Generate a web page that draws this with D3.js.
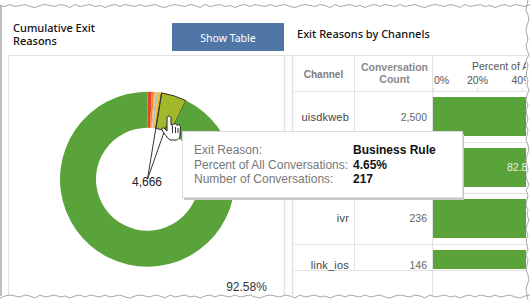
<!DOCTYPE html>
<html><head><meta charset="utf-8">
<script src="https://cdnjs.cloudflare.com/ajax/libs/d3/7.8.5/d3.min.js"></script>
<style>html,body{margin:0;padding:0;background:#fff}svg{display:block}</style></head>
<body><div id="c"></div>
<script>
const reasons=["Abandoned","Escalated","Timeout","Other","Invalid Input","Business Rule","Completed"];
const reasonPct=[0.78,0.42,0.27,0.46,0.65,4.65,92.77];
const reasonColors=["#e0482a","#f5861f","#f5b47a","#bdbdbd","#e8c22e","#a3b72b","#59a33a"];
const channels=["uisdkweb","","ivr","link_ios"];
const counts=["2,500","","236","146"];
const completedPct=[91,82.8,90,88];
const pctTicks=[0,20,40];
const tipLabels=["Exit Reason:","Percent of All Conversations:","Number of Conversations:"];
const tipValues=["Business Rule","4.65%","217"];
const tornOffsets=[0,1,-1,1,0,-1,1,2,0,-1,0,1,-1,0,2,-1,1,0,-1,1,0,2,0,-1,1,-1];

const W=531,H=301,font="'Liberation Sans',Arial,sans-serif",titleFont="'Noto Sans',sans-serif";
const svg=d3.select("#c").append("svg").attr("width",W).attr("height",H);
svg.append("defs").append("clipPath").attr("id","tableClip").append("rect")
  .attr("x",293).attr("y",55).attr("width",233).attr("height",241);
const grid="#e3e3e3";
const line=(x1,y1,x2,y2,c=grid,w=1)=>svg.append("line").attr("x1",x1).attr("y1",y1).attr("x2",x2).attr("y2",y2).attr("stroke",c).attr("stroke-width",w);

// titles and button
svg.append("text").attr("x",13).attr("y",32).attr("font-family",titleFont).attr("font-size",11).attr("font-weight",500).attr("fill","#111").text("Cumulative Exit");
svg.append("text").attr("x",13).attr("y",45).attr("font-family",titleFont).attr("font-size",11).attr("font-weight",500).attr("fill","#111").text("Reasons");
svg.append("rect").attr("x",172).attr("y",23).attr("width",112).attr("height",28).attr("fill","#4f76a6");
svg.append("text").attr("x",228).attr("y",41.5).attr("text-anchor","middle").attr("font-family",titleFont).attr("font-size",10.5).attr("fill","#fff").text("Show Table");
svg.append("text").attr("x",297).attr("y",38).attr("font-family",titleFont).attr("font-size",11).attr("font-weight",500).attr("fill","#111").text("Exit Reasons by Channels");

// panel and table rules
line(8,55.5,527,55.5);
[8.5,284.5,292.5,432.5].forEach(x=>line(x,55,x,296,grid,x===432.5||x===8.5?1:1.5));
line(354.5,55,354.5,270);
[91.5,142.5,193.5,244.5,270.5].forEach(y=>line(293,y,527,y));

// donut
const cx=147.5,cy=179.2,rO=87.5,rI=51.5;
const pie=d3.pie().sort(null).value(d=>d)(reasonPct);
const arc=d3.arc().innerRadius(rI).outerRadius(rO);
const g=svg.append("g").attr("transform",`translate(${cx},${cy})`);
g.selectAll("path").data(pie).join("path").attr("d",arc).attr("fill",(d,i)=>reasonColors[i])
  .attr("stroke",(d,i)=>i===5?"#333":"none").attr("stroke-width",1);
const sel=pie[5];
const rim=(a,r)=>[r*Math.sin(a),-r*Math.cos(a)];
const leader=(r,a,halo)=>{const p=rim(a,r);
  if(halo)g.append("line").attr("x1",0).attr("y1",0).attr("x2",p[0]).attr("y2",p[1]).attr("stroke","#fff").attr("stroke-width",2);
  g.append("line").attr("x1",0).attr("y1",0).attr("x2",p[0]).attr("y2",p[1]).attr("stroke","#333").attr("stroke-width",1);};
leader(rO,sel.startAngle,false);
leader(rI+5,(sel.startAngle+sel.endAngle)/2+0.03,false);
svg.append("text").attr("x",147).attr("y",186).attr("text-anchor","middle").attr("font-family",font).attr("font-size",12).attr("fill","#222").text("4,666");
svg.append("text").attr("x",246.5).attr("y",291).attr("text-anchor","middle").attr("font-family",font).attr("font-size",12).attr("fill","#333").text("92.58%");

// table
const x=d3.scaleLinear().domain([0,20]).range([433,477.5]);
const y=d3.scaleBand().domain(d3.range(channels.length)).range([91.5,295.5]);
const tbl=svg.append("g").attr("clip-path","url(#tableClip)");
tbl.selectAll("rect").data(completedPct).join("rect")
  .attr("x",x(0)).attr("y",(d,i)=>y(i)+5.5).attr("width",d=>x(d)-x(0))
  .attr("height",(d,i)=>i===3?19:39).attr("fill","#59a33a");
tbl.append("text").attr("x",507).attr("y",171).attr("font-family",font).attr("font-size",10.5).attr("fill","#e8f2e2").text("82.8%");
pctTicks.forEach(t=>{
  tbl.append("text").attr("x",x(t)+(t===0?1:0)).attr("y",83.5).attr("text-anchor",t===0?"start":"middle").attr("font-family",font).attr("font-size",10.5).attr("fill","#555").text(t+"%");
  line(x(t)+.5,88,x(t)+.5,91,"#ddd");
});
tbl.append("text").attr("x",472).attr("y",70).attr("font-family",font).attr("font-size",10.5).attr("fill","#555").text("Percent of All");
svg.append("text").attr("x",323.5).attr("y",78).attr("text-anchor","middle").attr("font-family",font).attr("font-size",10).attr("font-weight",700).attr("fill","#7d7d7d").text("Channel");
svg.append("text").attr("x",394.5).attr("y",70.5).attr("text-anchor","middle").attr("font-family",font).attr("font-size",10.5).attr("font-weight",700).attr("fill","#8a8a8a").text("Conversation");
svg.append("text").attr("x",394.5).attr("y",83).attr("text-anchor","middle").attr("font-family",font).attr("font-size",10.5).attr("font-weight",700).attr("fill","#8a8a8a").text("Count");
const rowY=[120.5,171,221.5,268.5];
channels.forEach((c,i)=>{
  svg.append("text").attr("x",349).attr("y",rowY[i]).attr("text-anchor","end").attr("font-family",font).attr("font-size",11).attr("letter-spacing",0.2).attr("fill","#444").text(c);
  svg.append("text").attr("x",427).attr("y",rowY[i]).attr("text-anchor","end").attr("font-family",font).attr("font-size",10.5).attr("fill","#666").text(counts[i]);
});

// tooltip
svg.append("rect").attr("x",184).attr("y",134).attr("width",280).attr("height",66).attr("fill","#c8c8c8");
svg.append("rect").attr("x",182.5).attr("y",131.5).attr("width",280).attr("height",66).attr("fill","#fff").attr("stroke","#dcdcdc");
[154,168.5,183].forEach((yy,i)=>{
  svg.append("text").attr("x",194).attr("y",yy).attr("font-family",font).attr("font-size",12).attr("fill","#777").text(tipLabels[i]);
  svg.append("text").attr("x",353).attr("y",yy).attr("font-family",font).attr("font-size",12).attr("font-weight",700).attr("fill","#111").text(tipValues[i]);
});

// hand cursor
svg.append("path").attr("d","M167 118 C167 115.5 171 115.5 171 118 L171 125 L173 125 C174 123 176 123.5 177 125.5 C178 124 180 124.5 180.5 126.5 L180 135 C180 139 177 140 176 140 L170 140 C167 138 164 133 162 130 C161 128 163 127 165 129 L167 131 Z")
  .attr("fill","#fff").attr("stroke","#222").attr("stroke-width",1);
[[172.5,126,172.5,133],[175.5,127,175.5,133],[178,128,178,133]].forEach(s=>line(s[0],s[1],s[2],s[3],"#333"));

// torn screenshot edge
const n=tornOffsets.length;
const across=d3.line();
const topPts=d3.range(0,W,5).map((v,i)=>[v,5.5+tornOffsets[i%n]]);
const botPts=d3.range(0,W,5).map((v,i)=>[v,296+tornOffsets[(i+7)%n]]);
const rightPts=d3.range(0,H,5).map((v,i)=>[527+tornOffsets[(i+3)%n],v]);
const mask=svg.append("g");
mask.append("path").attr("d",across(topPts)+`L531 0L0 0Z`).attr("fill","#fff");
mask.append("path").attr("d",across(botPts)+`L531 301L0 301Z`).attr("fill","#fff");
mask.append("path").attr("d",across(rightPts)+`L531 301L531 0Z`).attr("fill","#fff");
[topPts,botPts,rightPts].forEach(p=>svg.append("path").attr("d",across(p)).attr("fill","none").attr("stroke","#a8a8a8").attr("stroke-width",1));
line(1,5,1,296,"#aaa",1.5);
</script></body></html>
